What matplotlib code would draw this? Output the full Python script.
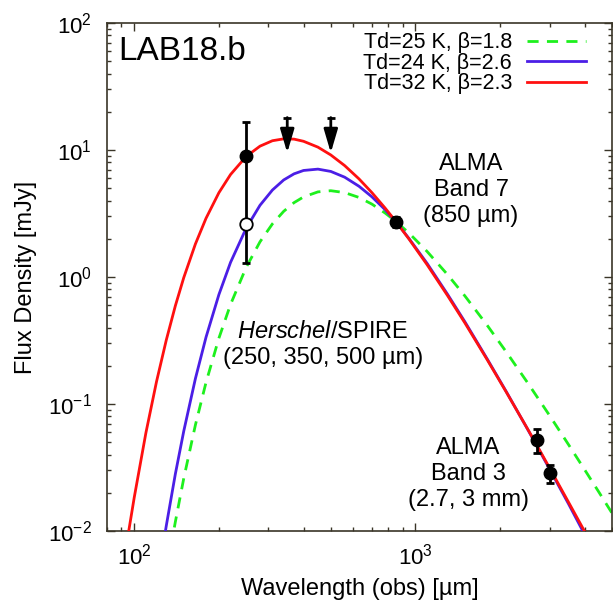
import matplotlib
matplotlib.use("Agg")
import matplotlib.pyplot as plt
from matplotlib.ticker import LogLocator, NullFormatter

plt.rcParams['font.family'] = ['Liberation Sans', 'DejaVu Sans']
plt.rcParams['mathtext.fontset'] = 'custom'
plt.rcParams['mathtext.rm'] = 'Liberation Sans'
plt.rcParams['mathtext.it'] = 'Liberation Sans:italic'

# ---- model curves (wavelength um, flux mJy) ----
red_wave = [95, 100, 110, 120, 130, 140, 150, 165, 180, 200, 220, 250, 280, 310, 340, 370,
            400, 450, 500, 560, 630, 700, 780, 850, 950, 1100, 1300, 1500, 1800, 2100,
            2500, 2700, 3000, 3500, 4000, 4100]
red_flux = [0.0092, 0.0184, 0.0592, 0.150, 0.319, 0.593, 0.989, 1.82, 2.90, 4.61, 6.41,
            8.89, 10.72, 11.83, 12.24, 12.18, 11.71, 10.53, 9.14, 7.54, 5.92, 4.62, 3.49,
            2.75, 1.98, 1.25, 0.715, 0.434, 0.223, 0.125, 0.0641, 0.0475, 0.0313,
            0.0169, 0.00988, 0.00893]

blue_wave = [125, 130, 140, 150, 165, 180, 200, 220, 250, 280, 310, 340, 370, 400, 450,
             500, 560, 630, 700, 780, 850, 950, 1100, 1300, 1500, 1800, 2100, 2500,
             2700, 3000, 3500, 4000, 4100]
blue_flux = [0.00645, 0.0110, 0.0281, 0.0612, 0.1585, 0.336, 0.727, 1.303, 2.42, 3.67,
             4.84, 5.81, 6.49, 6.90, 7.07, 6.78, 6.11, 5.18, 4.28, 3.39, 2.75, 2.00,
             1.28, 0.732, 0.443, 0.226, 0.126, 0.0638, 0.0470, 0.0307, 0.0164,
             0.00935, 0.00845]

green_wave = [135, 140, 150, 165, 180, 200, 220, 250, 280, 310, 340, 370, 400, 450, 500,
              560, 630, 700, 780, 850, 950, 1100, 1300, 1500, 1800, 2100, 2500, 3000,
              3500, 4000, 4500, 5000, 5200]
green_flux = [0.00754, 0.0118, 0.026, 0.0684, 0.148, 0.330, 0.608, 1.19, 1.892, 2.62,
              3.29, 3.85, 4.27, 4.68, 4.78, 4.62, 4.23, 3.75, 3.19, 2.75, 2.21, 1.589,
              1.045, 0.708, 0.416, 0.2585, 0.148, 0.0811, 0.0480, 0.0303, 0.0201,
              0.01383, 0.0120]

# ---- photometry ----
det_wave = [250, 850, 2700, 3000]
det_flux = [9.0, 2.72, 0.052, 0.0285]
det_err = [7.7, 0.25, 0.011, 0.0045]
open_wave = [250]
open_flux = [2.6]
ul_wave = [350, 500]
ul_top = [18.0, 18.0]
ul_tip = [9.5, 9.5]

labels = ['Td=25 K, β=1.8', 'Td=24 K, β=2.6', 'Td=32 K, β=2.3']
RED, BLUE, GREEN = '#ff1010', '#4b1ee6', '#1df01d'
AXC = '#3a3528'

fig = plt.figure(figsize=(6.13, 6.08), dpi=100)
ax = fig.add_axes([107 / 613, 1 - 531 / 608, 505 / 613, 508 / 608])
ax.set_xscale('log')
ax.set_yscale('log')

ax.plot(green_wave, green_flux, color=GREEN, lw=2.0, dashes=(4, 3), label=labels[0], zorder=2)
ax.plot(blue_wave, blue_flux, color=BLUE, lw=2.0, label=labels[1], zorder=3)
ax.plot(red_wave, red_flux, color=RED, lw=2.0, label=labels[2], zorder=4)

ax.errorbar(det_wave, det_flux, yerr=det_err, fmt='o', color='black', ms=9,
            elinewidth=2, capsize=3, capthick=2, zorder=6)
ax.plot(open_wave, open_flux, 'o', mfc='white', mec='black', mew=1.3, ms=9, zorder=7)

# upper limits: bar from the limit down with an arrow head
for w, top, tip in zip(ul_wave, ul_top, ul_tip):
    ax.plot([w], [top], marker='_', color='black', ms=6, mew=2, zorder=6)
    ax.annotate('', xy=(w, tip), xytext=(w, top),
                arrowprops=dict(arrowstyle='-|>,head_length=0.95,head_width=0.28',
                                color='black', lw=2, shrinkA=0, shrinkB=0,
                                mutation_scale=15), zorder=6)

ax.set_xlim(80, 5000)
ax.set_ylim(1e-2, 1e2)

ax.xaxis.set_major_locator(LogLocator(base=10, numticks=10))
ax.xaxis.set_minor_locator(LogLocator(base=10, subs=range(2, 10), numticks=20))
ax.yaxis.set_minor_locator(LogLocator(base=10, subs=range(2, 10), numticks=20))
ax.xaxis.set_minor_formatter(NullFormatter())
ax.yaxis.set_minor_formatter(NullFormatter())

ax.tick_params(which='both', direction='in', top=True, right=True, color=AXC, width=1)
ax.tick_params(which='major', length=5.5, labelsize=16)
ax.tick_params(axis='y', which='major', pad=11)
ax.tick_params(axis='x', which='major', pad=9)
ax.tick_params(which='minor', length=2.8)
for s in ax.spines.values():
    s.set_color(AXC)
    s.set_linewidth(1.2)

ax.set_xlabel('Wavelength (obs) [µm]', fontsize=17, labelpad=6)
ax.set_ylabel('Flux Density [mJy]', fontsize=17, labelpad=8)

ax.legend(loc='upper right', frameon=False, markerfirst=False, fontsize=15.5,
          handlelength=2.75, handletextpad=0.7, labelspacing=-0.02,
          borderaxespad=0.4, bbox_to_anchor=(0.983, 1.016))

ax.text(0.022, 0.944, 'LAB18.b', transform=ax.transAxes, fontsize=24, va='center', ha='left')
ax.text(0.721, 0.671, 'ALMA\nBand 7\n(850 µm)', transform=ax.transAxes, fontsize=17,
        ha='center', va='center', linespacing=1.25)
ax.text(0.428, 0.366, '$\\it{Herschel}$/SPIRE\n(250, 350, 500 µm)', transform=ax.transAxes,
        fontsize=17, ha='center', va='center', linespacing=1.25)
ax.text(0.715, 0.112, 'ALMA\nBand 3\n(2.7, 3 mm)', transform=ax.transAxes, fontsize=17,
        ha='center', va='center', linespacing=1.25)

fig.savefig('out.png', dpi=100)
